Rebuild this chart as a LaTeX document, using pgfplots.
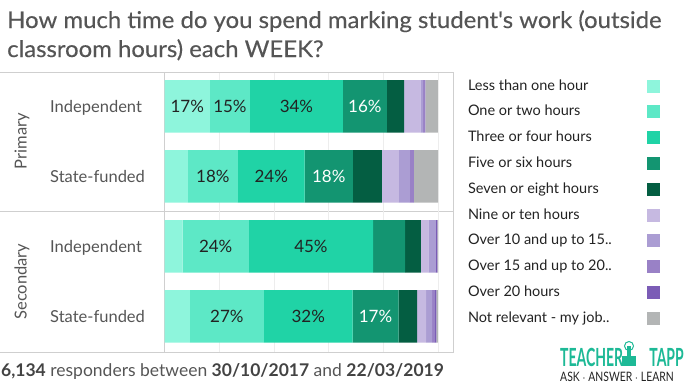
\documentclass[border=0pt]{standalone}
\usepackage{pgfplots}
\pgfplotsset{compat=1.18}
\usepackage{pgfplotstable}
\usepackage{fontspec}
\setmainfont{Lato}
\newfontfamily\titlefont{Lato}[FakeStretch=1.04, FakeBold=0.3]
\newfontfamily\logofont{Lato}[FakeStretch=0.56]
\newfontfamily\logosub{Lato}[FakeStretch=0.8]
\definecolor{c1}{HTML}{8EF5DC}
\definecolor{c2}{HTML}{5DE8C6}
\definecolor{c3}{HTML}{20D3A6}
\definecolor{c4}{HTML}{139571}
\definecolor{c5}{HTML}{045E42}
\definecolor{c6}{HTML}{C6B9E1}
\definecolor{c7}{HTML}{AB9DD3}
\definecolor{c8}{HTML}{9981C6}
\definecolor{c9}{HTML}{7B5CB6}
\definecolor{c10}{HTML}{B3B5B5}
\definecolor{txt}{HTML}{555555}
\definecolor{dark}{HTML}{222222}
\definecolor{framec}{HTML}{CFCFCF}
\definecolor{gridc}{HTML}{EDEDED}
\definecolor{logoc}{HTML}{1DB996}

\pgfplotstableread{
idx s1 s2 s3 s4 s5 s6 s7 s8 s9 s10
0 16.6 14.6 34.0 16.0 6.3 6.0 1.0 0.8 0.0 4.6
1 8.5 18.3 24.4 17.6 10.6 6.2 4.0 1.5 0.0 8.9
2 6.6 24.2 45.4 11.7 5.8 2.7 2.7 0.0 0.6 0.3
3 9.3 27.0 32.4 16.8 6.8 3.3 2.2 1.0 0.5 0.6
}\data

\begin{document}
\begin{tikzpicture}[x=1pt,y=1pt]
\path[use as bounding box] (0,0) rectangle (684,-384);
% separators
\draw[framec, line width=0.8pt] (0,-72) -- (453,-72);
\draw[framec, line width=0.8pt] (0,-211.3) -- (453,-211.3);
\draw[framec, line width=0.8pt] (0,-352) -- (453,-352);
\begin{axis}[
  at={(164.5pt,-352pt)}, anchor=south west,
  scale only axis, width=288.5pt, height=280pt,
  xbar stacked, bar width=52.5pt,
  y dir=reverse,
  xmin=0, xmax=105.4, ymin=-0.49, ymax=3.51,
  xtick={0,20,...,100}, xticklabels={}, major tick length=0pt,
  ytick=\empty,
  xmajorgrids, grid style={draw=gridc, line width=0.7pt},
  axis line style={draw=framec, line width=0.8pt},
  clip=false,
  visualization depends on={rawx \as \rawx},
  nodes near coords={\ifdim\rawx pt>14.5pt \pgfmathprintnumber[fixed,precision=0,assume math mode=true]{\rawx}\%\fi},
  every node near coord/.append style={font=\fontsize{17}{17}\selectfont, text=dark},
  legend plot pos=right,
  legend cell align=left,
  legend image code/.code={\fill[#1, draw=none] (0pt,-6.5pt) rectangle (13pt,6.5pt);},
  legend style={at={(axis description cs:1.052,0.975)}, anchor=north west,
    draw=none, fill=none, inner sep=0pt, outer sep=0pt, row sep=11.8pt, column sep=0pt,
    nodes={inner sep=0pt, text height=11pt, text depth=3pt, text=dark,
      font=\fontsize{14.5}{14.5}\selectfont}},
]
\addplot[fill=c1, draw=none] table[x=s1, y=idx] {\data};
\addlegendentry{\makebox[179pt][l]{Less than one hour}}
\addplot[fill=c2, draw=none] table[x=s2, y=idx] {\data};
\addlegendentry{\makebox[179pt][l]{One or two hours}}
\addplot[fill=c3, draw=none] table[x=s3, y=idx] {\data};
\addlegendentry{\makebox[179pt][l]{Three or four hours}}
\addplot[fill=c4, draw=none, every node near coord/.append style={text=white}] table[x=s4, y=idx] {\data};
\addlegendentry{\makebox[179pt][l]{Five or six hours}}
\addplot[fill=c5, draw=none] table[x=s5, y=idx] {\data};
\addlegendentry{\makebox[179pt][l]{Seven or eight hours}}
\addplot[fill=c6, draw=none] table[x=s6, y=idx] {\data};
\addlegendentry{\makebox[179pt][l]{Nine or ten hours}}
\addplot[fill=c7, draw=none] table[x=s7, y=idx] {\data};
\addlegendentry{\makebox[179pt][l]{Over 10 and up to 15..}}
\addplot[fill=c8, draw=none] table[x=s8, y=idx] {\data};
\addlegendentry{\makebox[179pt][l]{Over 15 and up to 20..}}
\addplot[fill=c9, draw=none] table[x=s9, y=idx] {\data};
\addlegendentry{\makebox[179pt][l]{Over 20 hours}}
\addplot[fill=c10, draw=none] table[x=s10, y=idx] {\data};
\addlegendentry{\makebox[179pt][l]{Not relevant - my job..}}
\end{axis}
% title
\node[anchor=base west, inner sep=0pt, text=txt, font=\titlefont\fontsize{23}{23}\selectfont] at (7,-28) {How much time do you spend marking student's work (outside};
\node[anchor=base west, inner sep=0pt, text=txt, font=\titlefont\fontsize{23}{23}\selectfont] at (7,-57) {classroom hours) each WEEK?};
% category labels
\foreach \y/\t in {106.3/Independent, 176.3/State-funded, 246.3/Independent, 316.3/State-funded}
  \node[anchor=base west, inner sep=0pt, text=txt, font=\fontsize{16.5}{16.5}\selectfont] at (50,-\y-6.2) {\t};
\node[rotate=90, inner sep=0pt, text=txt, font=\fontsize{16.5}{16.5}\selectfont] at (22,-141) {Primary};
\node[rotate=90, inner sep=0pt, text=txt, font=\fontsize{16.5}{16.5}\selectfont] at (22,-281.5) {Secondary};
% footer
\node[anchor=base west, inner sep=0pt, text=txt, font=\fontsize{17.5}{17.5}\selectfont] at (1,-376) {\textcolor{dark!85}{\bfseries 6,134} responders between \textcolor{dark!85}{\bfseries 30/10/2017} and \textcolor{dark!85}{\bfseries 22/03/2019}};
% logo
\node[anchor=base west, inner sep=0pt, text=logoc, font=\logofont\bfseries\fontsize{25}{25}\selectfont] at (560,-366) {TEACHER};
\node[anchor=base east, inner sep=0pt, text=logoc, font=\logofont\bfseries\fontsize{25}{25}\selectfont] at (684,-366) {TAPP};
\node[anchor=base west, inner sep=0pt, text=dark, font=\logosub\fontsize{13}{13}\selectfont] at (560,-381) {ASK $\cdot$ ANSWER $\cdot$ LEARN};
\fill[logoc] (622,-366) rectangle (636,-356);
\fill[logoc] (627,-356) rectangle (631,-346);
\draw[logoc, line width=1pt] (629,-346) circle (4.5);
\end{tikzpicture}
\end{document}
